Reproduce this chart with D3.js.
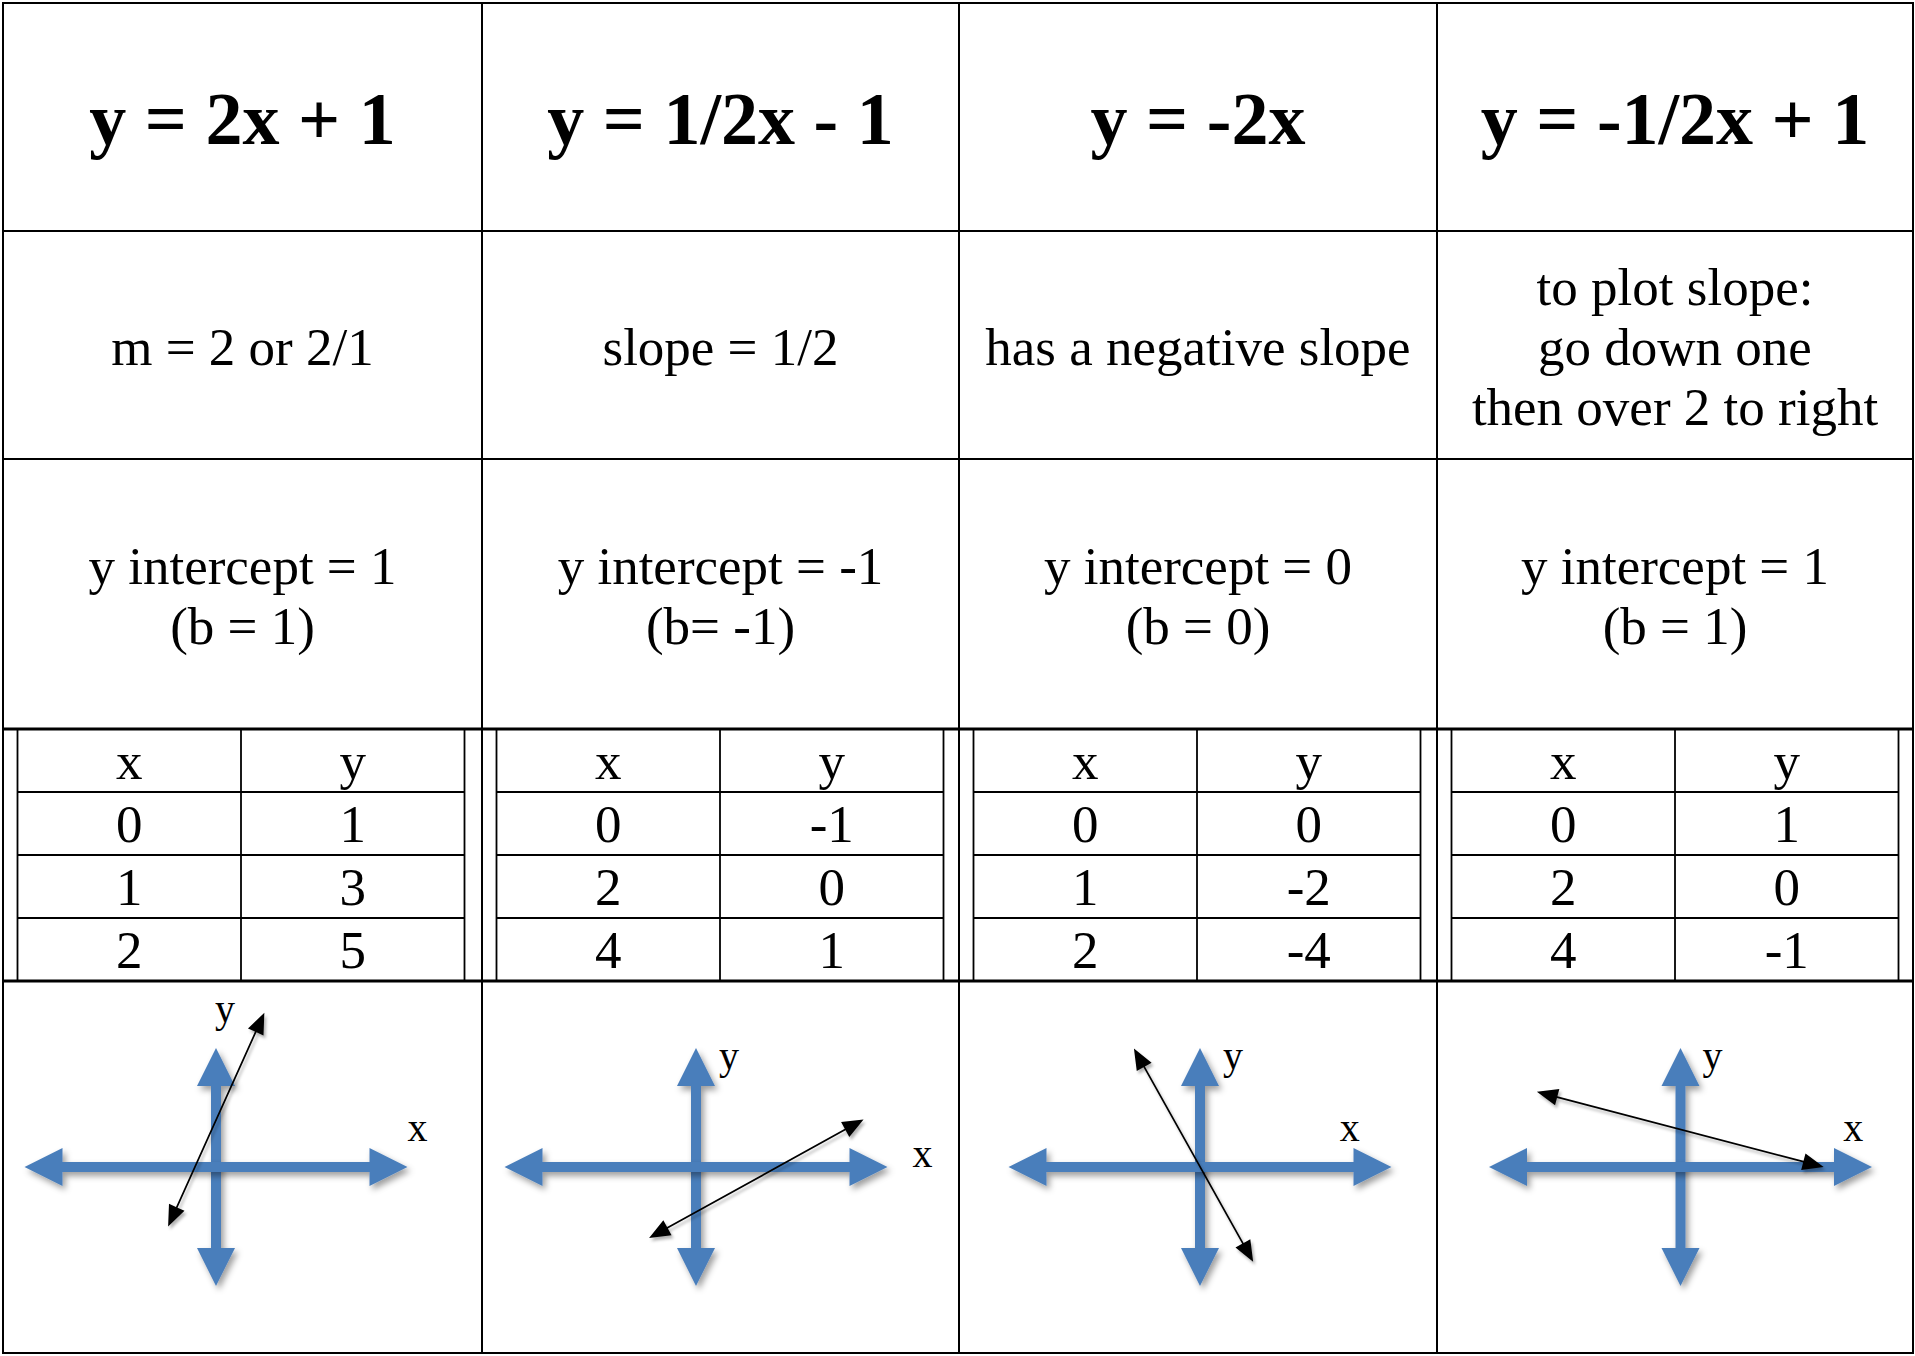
<!DOCTYPE html>
<html>
<head>
<meta charset="utf-8">
<title>Slope-intercept cards</title>
<style>
body { margin: 0; background: #fff; }
svg { display: block; background: #fff; }
text { font-family: "Liberation Serif", "Times New Roman", serif; fill: #000; }
.eq { font-size: 74px; font-weight: bold; }
.note { font-size: 53px; }
.cell { font-size: 53px; }
.axislabel { font-size: 40px; }
.grid { stroke: #000; stroke-width: 2; fill: none; }
.inner { stroke: #000; stroke-width: 1.8; fill: none; }
</style>
</head>
<body>
<script src="https://cdn.jsdelivr.net/npm/d3@7"></script>
<script>

// ---- data ----
var equations = ["y = 2x + 1", "y = 1/2x - 1", "y = -2x", "y = -1/2x + 1"];

var slopeNotes = [
  ["m = 2 or 2/1"],
  ["slope = 1/2"],
  ["has a negative slope"],
  ["to plot slope:", "go down one", "then over 2 to right"]
];

var interceptNotes = [
  ["y intercept = 1", "(b = 1)"],
  ["y intercept = -1", "(b= -1)"],
  ["y intercept = 0", "(b = 0)"],
  ["y intercept = 1", "(b = 1)"]
];

var tableX = [[0, 1, 2], [0, 2, 4], [0, 1, 2], [0, 2, 4]];
var tableY = [["1", "3", "5"], ["-1", "0", "1"], ["0", "-2", "-4"], ["1", "0", "-1"]];

// hand drawn arrow for each sketch, ends in graph units
var sketchStart = [[-1.0, -1.25], [-0.98, -1.49], [-1.38, 2.49], [-3.0, 1.58]];
var sketchEnd   = [[1.01, 3.24], [3.5, 1.0], [1.11, -1.99], [2.99, 0.0]];

// where the y / x letters sit, graph units
var yLabelAt = [[-0.02, 3.05], [0.48, 2.05], [0.48, 2.05], [0.46, 2.05]];
var xLabelAt = [[4.0, 0.54], [4.52, 0.0], [2.92, 0.54], [3.4, 0.54]];

var axisXRange = [-4, 4];
var axisYRange = [-2.5, 2.5];

// ---- layout ----
var width = 1915, height = 1356;
var colEdges = [3, 482, 959, 1437, 1913];
var rowEdges = [3, 231, 459, 729, 981, 1353];
var plotShift = [-26.5, -24.5, 2, 5.5];   // sketch centre vs column centre
var lineGap = 60;

var svg = d3.select("body").append("svg")
    .attr("width", width)
    .attr("height", height);

var defs = svg.append("defs");
defs.append("filter").attr("id", "shadow")
    .attr("x", "-30%").attr("y", "-30%").attr("width", "160%").attr("height", "160%")
  .append("feDropShadow")
    .attr("dx", 3).attr("dy", 4).attr("stdDeviation", 3)
    .attr("flood-color", "#000").attr("flood-opacity", 0.38);
defs.append("filter").attr("id", "shadowThin")
    .attr("x", "-30%").attr("y", "-30%").attr("width", "160%").attr("height", "160%")
  .append("feDropShadow")
    .attr("dx", 2).attr("dy", 3).attr("stdDeviation", 1.8)
    .attr("flood-color", "#000").attr("flood-opacity", 0.3);

function colLeft(i) { return colEdges[i]; }
function colMid(i) { return (colEdges[i] + colEdges[i + 1]) / 2; }
function rowCenter(r) { return (rowEdges[r] + rowEdges[r + 1]) / 2; }

// ---- text rows ----
svg.append("g").selectAll("text")
    .data(equations)
    .enter().append("text")
    .attr("class", "eq")
    .attr("text-anchor", "middle")
    .attr("x", function(d, i) { return colMid(i); })
    .attr("y", rowCenter(0) + 27)
    .text(function(d) { return d; });

function multiLine(data, r, cls) {
  var g = svg.append("g").selectAll("g")
      .data(data)
      .enter().append("g");
  g.selectAll("text")
      .data(function(lines, i) {
        return lines.map(function(t, k) { return {t: t, k: k, n: lines.length, i: i}; });
      })
      .enter().append("text")
      .attr("class", cls)
      .attr("text-anchor", "middle")
      .attr("x", function(d) { return colMid(d.i); })
      .attr("y", function(d) { return rowCenter(r) + 19.5 + (d.k - (d.n - 1) / 2) * lineGap; })
      .text(function(d) { return d.t; });
}
multiLine(slopeNotes, 1, "note");
multiLine(interceptNotes, 2, "note");

// ---- small x/y tables ----
var tblTop = rowEdges[3], tblBottom = rowEdges[4];
var tblRow = d3.scaleBand().domain(d3.range(4)).range([tblTop, tblBottom]);

d3.range(4).forEach(function(i) {
  var left = colLeft(i) + 14.5, w = 447;
  var sub = d3.scaleBand().domain([0, 1]).range([left, left + w]);
  var g = svg.append("g");
  g.append("rect").attr("class", "inner")
      .attr("x", left).attr("y", tblTop).attr("width", w).attr("height", tblBottom - tblTop);
  g.append("line").attr("class", "inner")
      .attr("x1", sub(1)).attr("x2", sub(1)).attr("y1", tblTop).attr("y2", tblBottom);
  g.selectAll("line.h").data([1, 2, 3]).enter().append("line")
      .attr("class", "inner h")
      .attr("x1", left).attr("x2", left + w)
      .attr("y1", function(d) { return tblRow(d); })
      .attr("y2", function(d) { return tblRow(d); });

  var cells = [["x", "y"]].concat(tableX[i].map(function(x, k) { return [String(x), tableY[i][k]]; }));
  cells.forEach(function(row, r) {
    g.selectAll(null).data(row).enter().append("text")
        .attr("class", "cell")
        .attr("text-anchor", "middle")
        .attr("x", function(d, c) { return sub(c) + sub.bandwidth() / 2; })
        .attr("y", tblRow(r) + tblRow.bandwidth() - 13)
        .text(function(d) { return d; });
  });
});

// ---- sketches ----
function arrowPath(x0, y0, x1, y1, L, H, t) {
  var dx = x1 - x0, dy = y1 - y0, len = Math.sqrt(dx * dx + dy * dy);
  var ux = dx / len, uy = dy / len, nx = -uy, ny = ux;
  function P(s, n) { return [x0 + ux * s + nx * n, y0 + uy * s + ny * n]; }
  var pts = [P(0, 0), P(L, H), P(L, t / 2), P(len - L, t / 2), P(len - L, H),
             P(len, 0), P(len - L, -H), P(len - L, -t / 2), P(L, -t / 2), P(L, -H)];
  return d3.line()(pts) + "Z";
}

var cy = 1167;
d3.range(4).forEach(function(i) {
  var cx = colMid(i) + plotShift[i];
  var x = d3.scaleLinear().domain(axisXRange).range([cx - 191.5, cx + 191.5]);
  var y = d3.scaleLinear().domain(axisYRange).range([cy + 119, cy - 119]);
  var g = svg.append("g");

  g.append("path")
      .attr("d", arrowPath(x(0), y(axisYRange[1]), x(0), y(axisYRange[0]), 38, 19, 10))
      .attr("fill", "#4a7ebb")
      .attr("filter", "url(#shadow)");
  g.append("path")
      .attr("d", arrowPath(x(axisXRange[0]), y(0), x(axisXRange[1]), y(0), 38, 19, 10))
      .attr("fill", "#4a7ebb")
      .attr("filter", "url(#shadow)");

  g.append("text").attr("class", "axislabel")
      .attr("x", x(yLabelAt[i][0])).attr("y", y(yLabelAt[i][1]))
      .text("y");
  g.append("text").attr("class", "axislabel")
      .attr("x", x(xLabelAt[i][0])).attr("y", y(xLabelAt[i][1]))
      .text("x");

  var s = sketchStart[i], e = sketchEnd[i];
  g.append("path")
      .attr("d", arrowPath(x(s[0]), y(s[1]), x(e[0]), y(e[1]), 21, 8.5, 1.7))
      .attr("fill", "#000")
      .attr("filter", "url(#shadowThin)");
});

// ---- grid lines ----
var grid = svg.append("g");
grid.append("rect").attr("class", "grid")
    .attr("x", 3).attr("y", 3).attr("width", 1910).attr("height", 1350);
grid.selectAll("line.v").data(colEdges.slice(1, 4)).enter().append("line")
    .attr("class", "grid v")
    .attr("x1", function(d) { return d; }).attr("x2", function(d) { return d; })
    .attr("y1", 3).attr("y2", 1353);
grid.selectAll("line.h").data(rowEdges.slice(1, 5)).enter().append("line")
    .attr("class", "grid h")
    .attr("x1", 3).attr("x2", 1913)
    .attr("y1", function(d) { return d; }).attr("y2", function(d) { return d; })
    .style("stroke-width", function(d, i) { return (i === 2 || i === 3) ? 3 : 2; });

</script>
</body>
</html>
